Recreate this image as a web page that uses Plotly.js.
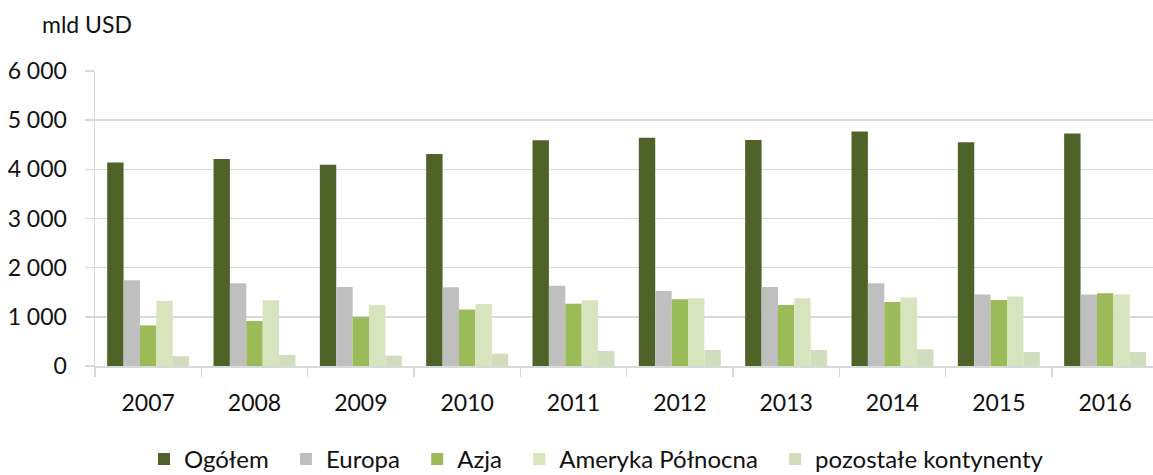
<!DOCTYPE html>
<html>
<head>
<meta charset="utf-8">
<script src="https://cdn.plot.ly/plotly-3.0.1.min.js"></script>
<style>html,body{margin:0;padding:0;background:#fff;}#chart{width:1153px;height:475px;}</style>
</head>
<body>
<div id="chart"></div>
<script>
const years = ['2007','2008','2009','2010','2011','2012','2013','2014','2015','2016'];
const seriesNames = ['Ogółem','Europa','Azja','Ameryka Północna','pozostałe kontynenty'];
const ogolem    = [4140, 4210, 4095, 4310, 4590, 4640, 4595, 4770, 4550, 4730];
const europa    = [1745, 1685, 1605, 1600, 1630, 1525, 1605, 1685, 1455, 1455];
const azja      = [825, 915, 995, 1150, 1265, 1360, 1240, 1300, 1340, 1480];
const ameryka   = [1320, 1335, 1240, 1260, 1335, 1380, 1380, 1395, 1415, 1455];
const pozostale = [200, 225, 210, 250, 305, 325, 325, 340, 285, 285];
const yTicks = [0, 1000, 2000, 3000, 4000, 5000, 6000];

const colors = ['#4f6228', '#bfbfbf', '#9bbb59', '#d7e4bd', '#d1ddbd'];
const values = [ogolem, europa, azja, ameryka, pozostale];
const FONT = 'Lato, "Open Sans", sans-serif';
const PAD = '\u00a0\u00a0';

const traces = values.map((v, i) => ({
  type: 'bar',
  name: seriesNames[i] + (i < seriesNames.length - 1 ? PAD : ''),
  x: years,
  y: v,
  marker: {color: colors[i], line: {width: 0}},
  hoverinfo: 'x+y'
}));

const layout = {
  width: 1153,
  height: 475,
  margin: {l: 95, r: 0, t: 71, b: 109},
  paper_bgcolor: '#fff',
  plot_bgcolor: '#fff',
  barmode: 'group',
  bargap: 0.229,
  bargroupgap: 0,
  separators: ', ',
  font: {family: FONT, size: 23, color: '#111'},
  xaxis: {
    type: 'category',
    range: [-0.5, 9.45],
    tickson: 'boundaries',
    ticks: 'outside',
    ticklen: 9,
    tickwidth: 1.5,
    tickcolor: '#d9d9d9',
    showline: true,
    linecolor: '#d9d9d9',
    linewidth: 1.5,
    showgrid: false,
    ticklabelstandoff: 16,
    tickfont: {family: FONT, size: 23, color: '#111'}
  },
  yaxis: {
    range: [0, 6000],
    tickvals: yTicks,
    separatethousands: true,
    tickformat: ',d',
    ticks: 'outside',
    ticklen: 9,
    tickwidth: 1.5,
    tickcolor: '#d9d9d9',
    showline: true,
    linecolor: '#d9d9d9',
    linewidth: 1.5,
    showgrid: true,
    gridcolor: '#d9d9d9',
    gridwidth: 1.5,
    zeroline: false,
    ticklabelstandoff: 13,
    tickfont: {family: FONT, size: 23, color: '#111'}
  },
  showlegend: true,
  legend: {
    orientation: 'h',
    x: 0.474,
    xanchor: 'center',
    yref: 'container',
    y: 0.033,
    yanchor: 'middle',
    font: {family: FONT, size: 24, color: '#111'},
    bgcolor: 'rgba(0,0,0,0)'
  },
  annotations: [{
    text: 'mld USD',
    xref: 'paper', yref: 'paper',
    x: -0.052, y: 1.16,
    xanchor: 'left', yanchor: 'middle',
    showarrow: false,
    font: {family: FONT, size: 23, color: '#111'}
  }]
};

Plotly.newPlot('chart', traces, layout, {displayModeBar: false, staticPlot: true});
</script>
</body>
</html>
